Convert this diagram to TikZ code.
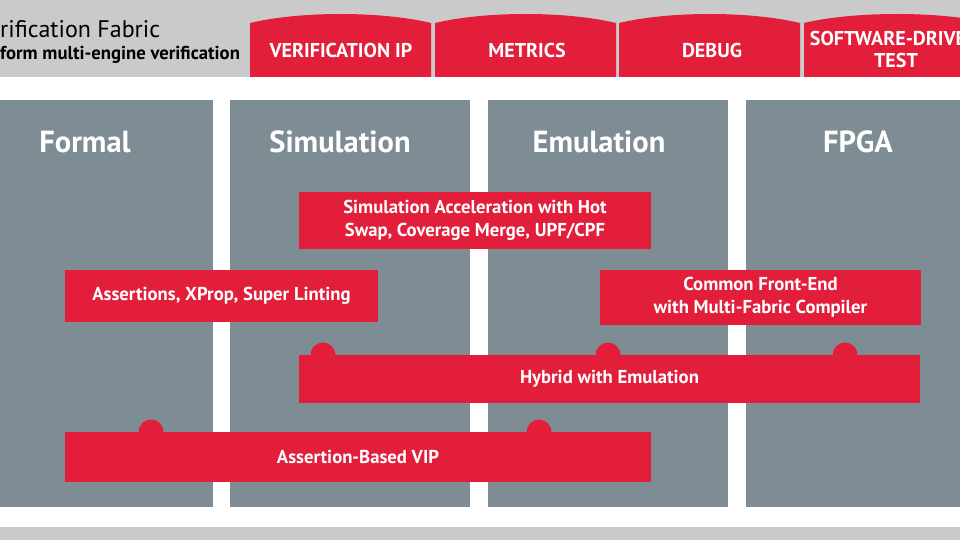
\documentclass[tikz,border=0pt]{standalone}
\usepackage{fontspec}
\setmainfont{PT Sans}
\usepackage{tikz}
\usetikzlibrary{positioning}
\definecolor{fabricred}{RGB}{226,30,58}
\definecolor{colgray}{RGB}{126,141,147}
\definecolor{bandgray}{RGB}{202,202,202}
\tikzstyle{column} = [fill=colgray]
\tikzstyle{coltitle} = [text=white, font=\fontsize{30.5}{32}\selectfont\bfseries]
\tikzstyle{feature} = [rectangle, fill=fabricred, text=white, align=center, inner sep=0pt, font=\fontsize{18.7}{23}\selectfont\bfseries]
\tikzstyle{tabtext} = [text=white, align=center, font=\fontsize{20}{22}\selectfont\bfseries]
\tikzstyle{bump} = [fill=fabricred]

\begin{document}
\begin{tikzpicture}[x=1pt, y=-1pt]
    \useasboundingbox (0,0) rectangle (960,540);
    % Bands
    \fill[bandgray] (0,0) rectangle (960,77);
    \fill[bandgray] (0,527) rectangle (960,540);
    \node (title) [anchor=west, inner sep=0pt, font=\fontsize{24}{26}\selectfont] at (0,29) {rification Fabric};
    \node (subtitle) [anchor=west, inner sep=0pt, font=\fontsize{18.7}{20}\selectfont\bfseries] at (0,55) {form multi-engine verification};
    % Tabs
    \foreach \xa/\xb in {250/431, 435/616, 619/800, 804/990}
        \fill[fabricred] (\xa,77) -- (\xa,23) .. controls (\xa+50,11) and (\xb-50,11) .. (\xb,23) -- (\xb,77) -- cycle;
    \node (tab_vip) [tabtext] at (341,51) {VERIFICATION IP};
    \node (tab_metrics) [tabtext] at (527,51) {METRICS};
    \node (tab_debug) [tabtext] at (712,51) {DEBUG};
    \node (tab_sdt) [tabtext] at (888,50) {SOFTWARE-DRIVE\\\hspace*{16pt}TEST};
    % Columns
    \fill[column] (0,100) rectangle (213,507);
    \fill[column] (230,100) rectangle (470,507);
    \fill[column] (488,100) rectangle (728,507);
    \fill[column] (746,100) rectangle (960,507);
    \node (formal) [coltitle] at (85,142) {Formal};
    \node (simulation) [coltitle] at (340,142) {Simulation};
    \node (emulation) [coltitle] at (599,142) {Emulation};
    \node (fpga) [coltitle] at (858,142) {FPGA};
    % Bumps
    \foreach \x in {323, 608, 845}
        \fill[bump] (\x,355) circle (12.5);
    \foreach \x in {151, 539}
        \fill[bump] (\x,432) circle (12.5);
    % Features
    \node (simacc) [feature, minimum width=352pt, minimum height=57pt] at (475,220.5) {Simulation Acceleration with Hot\\Swap, Coverage Merge, UPF/CPF};
    \node (assertions) [feature, minimum width=313pt, minimum height=52pt] at (221.5,296) {Assertions, XProp, Super Linting};
    \node (frontend) [feature, minimum width=321pt, minimum height=55pt] at (760.5,297.5) {Common Front-End\\with Multi-Fabric Compiler};
    \node (hybrid) [feature, minimum width=621pt, minimum height=48pt] at (609.5,379) {Hybrid with Emulation};
    \node (abvip) [feature, minimum width=586pt, minimum height=50pt] at (358,457) {Assertion-Based VIP};
\end{tikzpicture}
\end{document}
